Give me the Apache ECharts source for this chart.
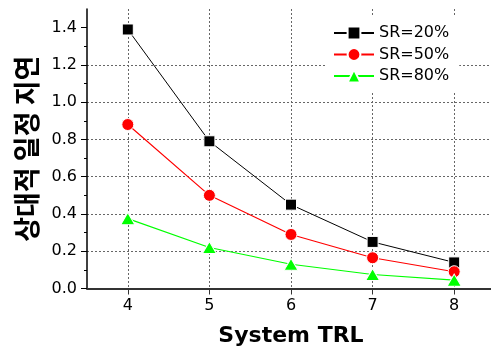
<!DOCTYPE html>
<html>
<head>
<meta charset="utf-8">
<script src="https://cdn.jsdelivr.net/npm/echarts@6/dist/echarts.min.js"></script>
<style>html,body{margin:0;padding:0;background:#fff;}#c{width:491px;height:349px;}</style>
</head>
<body>
<div id="c"></div>
<script>
const trl = [4, 5, 6, 7, 8];
const sr20 = [1.39, 0.79, 0.45, 0.25, 0.14];
const sr50 = [0.88, 0.50, 0.29, 0.165, 0.09];
const sr80 = [0.375, 0.22, 0.13, 0.075, 0.045];
const seriesNames = ['SR=20%', 'SR=50%', 'SR=80%'];
const yTicks = [0, 0.2, 0.4, 0.6, 0.8, 1.0, 1.2, 1.4];
const xLabel = 'System TRL';
const yLabel = '상대적 일정 지연';

const pairs = arr => arr.map((v, i) => [trl[i], v]);
const tickFont = 'DejaVu Sans';

const chart = echarts.init(document.getElementById('c'), null, {renderer: 'canvas'});
chart.setOption({
  animation: false,
  backgroundColor: '#fff',
  grid: {left: 87, right: -4, top: 9, bottom: 60.5, containLabel: false, outerBoundsMode: 'none'},
  legend: {
    orient: 'vertical', left: 327, top: 17,
    padding: [8, 10, 8, 6],
    backgroundColor: '#fff',
    itemWidth: 40, itemHeight: 16, itemGap: 5.5,
    textStyle: {fontFamily: tickFont, fontSize: 16, color: '#000', lineHeight: 16},
    data: seriesNames
  },
  xAxis: {
    type: 'value', min: 3.5, max: 8.5, splitNumber: 5,
    name: xLabel, nameLocation: 'middle', nameGap: 37,
    nameTextStyle: {fontFamily: tickFont, fontWeight: 'bold', fontSize: 22, color: '#000'},
    axisLine: {show: true, onZero: false, lineStyle: {color: '#333', width: 2}},
    axisTick: {show: true, inside: false, length: 6, lineStyle: {color: '#333'}, customValues: trl},
    axisLabel: {fontFamily: tickFont, fontSize: 16, color: '#000', margin: 9, customValues: trl},
    splitLine: {show: true, lineStyle: {color: '#666', type: [2, 2], width: 1}},
    minorTick: {show: false}
  },
  yAxis: {
    type: 'value', min: 0, max: 1.5, interval: 0.2,
    name: yLabel, nameLocation: 'middle', nameGap: 46, nameRotate: 90,
    nameTextStyle: {fontFamily: 'Noto Sans CJK KR', fontWeight: 'bold', fontSize: 27, color: '#000'},
    axisLine: {show: true, lineStyle: {color: '#000', width: 1.5}},
    axisTick: {show: true, inside: false, length: 6, lineStyle: {color: '#000'}, customValues: yTicks},
    minorTick: {show: true, splitNumber: 2, length: 3, lineStyle: {color: '#000'}},
    axisLabel: {fontFamily: tickFont, fontSize: 16, color: '#000', margin: 10,
      customValues: yTicks, formatter: v => v.toFixed(1)},
    splitLine: {show: true, showMaxLine: false, lineStyle: {color: '#666', type: [2, 2], width: 1}}
  },
  series: [
    {name: seriesNames[0], type: 'line', data: pairs(sr20), symbol: 'rect', symbolSize: 11,
      lineStyle: {color: '#000', width: 1}, itemStyle: {color: '#000', borderColor: '#fff', borderWidth: 1}},
    {name: seriesNames[1], type: 'line', data: pairs(sr50), symbol: 'circle', symbolSize: 12,
      lineStyle: {color: '#ff0000', width: 1.2}, itemStyle: {color: '#ff0000', borderColor: '#fff', borderWidth: 1}},
    {name: seriesNames[2], type: 'line', data: pairs(sr80), symbol: 'triangle', symbolSize: [14, 12],
      lineStyle: {color: '#00ff00', width: 1.2}, itemStyle: {color: '#00ff00', borderColor: '#fff', borderWidth: 1}}
  ]
});
</script>
</body>
</html>
